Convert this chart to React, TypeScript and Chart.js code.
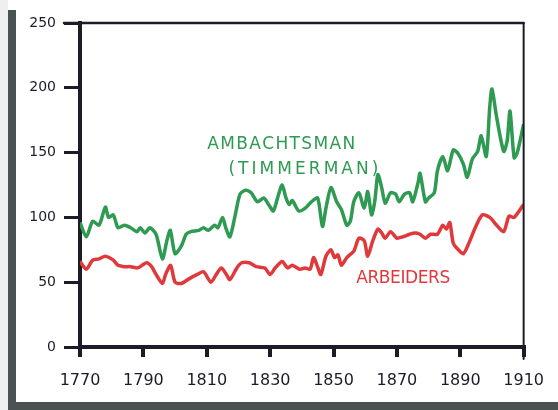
import React, { useEffect, useRef } from "react";
import { Chart, registerables } from "chart.js";

Chart.register(...registerables);

const greenYears = [1770,1772,1774,1776,1778,1779,1780.5,1782,1784,1786,1788,1789,1790.5,1792,1794,1796,1797.5,1798.5,1800,1802,1803.5,1805,1807.5,1809,1810.5,1812.5,1813.5,1815,1816,1817.3,1819,1820.5,1822.3,1824,1826,1828,1829.5,1831,1832.7,1833.8,1835,1836,1837,1839,1841,1843,1845,1846.5,1847.6,1849.2,1851,1852.5,1854.2,1855.3,1856.4,1858,1859.7,1860.8,1862,1863,1864,1865.2,1866.3,1868,1869.6,1870.7,1872.4,1874,1875,1876.7,1877.3,1879,1880,1881.8,1882.8,1884.5,1886,1887.8,1889.4,1891,1892.2,1893.8,1895.5,1896.6,1898.2,1899.3,1900,1901.5,1903.7,1904.8,1905.7,1907,1908,1910];
const greenValues = [96,85,97,94,108,100,102,92,94,92,89,92,88,92,87,68,83,90,72,78,87,89,90,92,90,94,92,100,92,85,102,118,121,119,112,115,110,105,118,125,115,110,113,105,107,112,115,93,107,123,112,106,94,97,112,119,107,120,102,112,133,123,111,119,118,112,118,119,112,127,134,112,115,119,136,147,136,152,149,141,131,145,151,163,147,185,199,177,151,159,182,146,150,172];

const redYears = [1770,1772,1774,1776,1778,1780.5,1782,1784,1786,1788,1789,1791,1792.6,1794,1796,1797,1798.6,1800,1802,1804,1807,1809,1811.3,1813,1814.6,1816.2,1817.3,1819.5,1821,1823.4,1825.6,1828.3,1830,1831.6,1833.8,1835.5,1837,1839.3,1841,1842.6,1843.7,1844.8,1846,1847.6,1849.2,1850.3,1851.4,1852.5,1854.2,1856.4,1858,1859.7,1860.8,1862.4,1864,1865.2,1866.3,1868,1870,1871.8,1874,1875.7,1877.3,1879,1880.6,1882.8,1884.5,1885.6,1886.7,1887.8,1889.4,1891,1892.7,1894.9,1897,1899.3,1901.5,1903.7,1905.4,1907,1910];
const redValues = [66,60,67,68,70,67,63,62,62,61,62,65,62,56,49,56,63,50,49,52,56,58,50,56,61,56,52,61,65,65,62,61,56,61,66,61,63,60,61,60,69,63,56,70,75,69,71,63,69,74,84,82,70,82,91,88,84,89,84,85,87,88,87,84,87,87,94,91,96,80,75,72,80,93,102,100,94,89,101,100,110];

const xTickValues = [1770, 1790, 1810, 1830, 1850, 1870, 1890, 1910];
const yTickValues = [0, 50, 100, 150, 200, 250];

const seriesNames = ["Ambachtsman (timmerman)", "Arbeiders"];
const labelGreen = ["AMBACHTSMAN", "(TIMMERMAN)"];
const labelRed = "ARBEIDERS";

const GREEN = "#2f9a52";
const RED = "#e0393b";
const INK = "#1c1c28";

function pairs(xs: number[], ys: number[]) {
  return xs.map((x, i) => ({ x, y: ys[i] }));
}

export default function App() {
  const ref = useRef<HTMLCanvasElement | null>(null);

  useEffect(() => {
    if (!ref.current) return;

    const framePlugin = {
      id: "frame",
      beforeDraw(chart: any) {
        const ctx = chart.ctx;
        ctx.save();
        ctx.fillStyle = "#ffffff";
        ctx.fillRect(0, 0, chart.width, chart.height);
        ctx.fillStyle = "#efefef";
        ctx.fillRect(0, 0, 8, chart.height);
        ctx.fillStyle = "#4a5351";
        ctx.fillRect(8, 10, 8, chart.height - 10);
        ctx.fillRect(8, chart.height - 8, chart.width - 8, 8);
        ctx.restore();
      },
      afterDraw(chart: any) {
        const { ctx, chartArea } = chart;
        ctx.save();
        ctx.strokeStyle = INK;
        ctx.lineCap = "round";
        ctx.lineWidth = 2.5;
        ctx.beginPath();
        ctx.moveTo(chartArea.left - 16, chartArea.top);
        ctx.lineTo(chartArea.right, chartArea.top);
        ctx.stroke();
        ctx.lineWidth = 2;
        ctx.beginPath();
        ctx.moveTo(chartArea.right, chartArea.top);
        ctx.lineTo(chartArea.right, chartArea.bottom + 12);
        ctx.stroke();

        const xs = chart.scales.x;
        const ys = chart.scales.y;
        const drawSpaced = (text: string, cx: number, cy: number, width: number, color: string) => {
          ctx.font = "17px 'DejaVu Sans'";
          ctx.fillStyle = color;
          ctx.textBaseline = "middle";
          ctx.textAlign = "left";
          const chars = text.split("");
          const raw = chars.reduce((s, c) => s + ctx.measureText(c).width, 0);
          const gap = (width - raw) / (chars.length - 1);
          let x = cx - width / 2;
          for (const c of chars) {
            ctx.fillText(c, x, cy);
            x += ctx.measureText(c).width + gap;
          }
        };
        drawSpaced(labelGreen[0], xs.getPixelForValue(1833.5), ys.getPixelForValue(156), 148, GREEN);
        drawSpaced(labelGreen[1], xs.getPixelForValue(1840.5), ys.getPixelForValue(137), 150, GREEN);
        drawSpaced(labelRed, xs.getPixelForValue(1872), ys.getPixelForValue(53), 94, RED);
        ctx.restore();
      },
    };

    const chart = new Chart(ref.current, {
      type: "line",
      data: {
        datasets: [
          {
            label: seriesNames[0],
            data: pairs(greenYears, greenValues),
            borderColor: GREEN,
            borderWidth: 3.5,
            pointRadius: 0,
            tension: 0.25,
            fill: false,
          },
          {
            label: seriesNames[1],
            data: pairs(redYears, redValues),
            borderColor: RED,
            borderWidth: 3.5,
            pointRadius: 0,
            tension: 0.25,
            fill: false,
          },
        ],
      },
      options: {
        responsive: false,
        animation: false,
        layout: { padding: { top: 23, right: 26, left: 0, bottom: 0 } },
        plugins: { legend: { display: false }, tooltip: { enabled: false } },
        scales: {
          x: {
            type: "linear",
            min: 1770,
            max: 1910,
            afterBuildTicks: (scale: any) => {
              scale.ticks = xTickValues.map((v) => ({ value: v }));
            },
            afterFit: (scale: any) => {
              scale.height = 63;
            },
            border: { display: true, color: INK, width: 4 },
            grid: {
              drawOnChartArea: false,
              drawTicks: true,
              tickLength: 10,
              color: INK,
              lineWidth: 4,
            },
            ticks: {
              color: INK,
              padding: 14,
              maxRotation: 0,
              autoSkip: false,
              font: { family: "'DejaVu Sans'", size: 16 },
              callback: (v: any) => String(v),
            },
          },
          y: {
            type: "linear",
            min: 0,
            max: 250,
            afterBuildTicks: (scale: any) => {
              scale.ticks = yTickValues.map((v) => ({ value: v }));
            },
            afterFit: (scale: any) => {
              scale.width = 80;
            },
            border: { display: true, color: INK, width: 4 },
            grid: {
              drawOnChartArea: false,
              drawTicks: true,
              tickLength: 16,
              color: INK,
              lineWidth: 3,
            },
            ticks: {
              color: INK,
              padding: 8,
              font: { family: "'DejaVu Sans'", size: 14 },
            },
          },
        },
      },
      plugins: [framePlugin],
    });
    return () => chart.destroy();
  }, []);

  return (
    <div style={{ position: "fixed", left: 0, top: 0, width: 558, height: 410 }}>
      <canvas ref={ref} width={558} height={410} />
    </div>
  );
}
